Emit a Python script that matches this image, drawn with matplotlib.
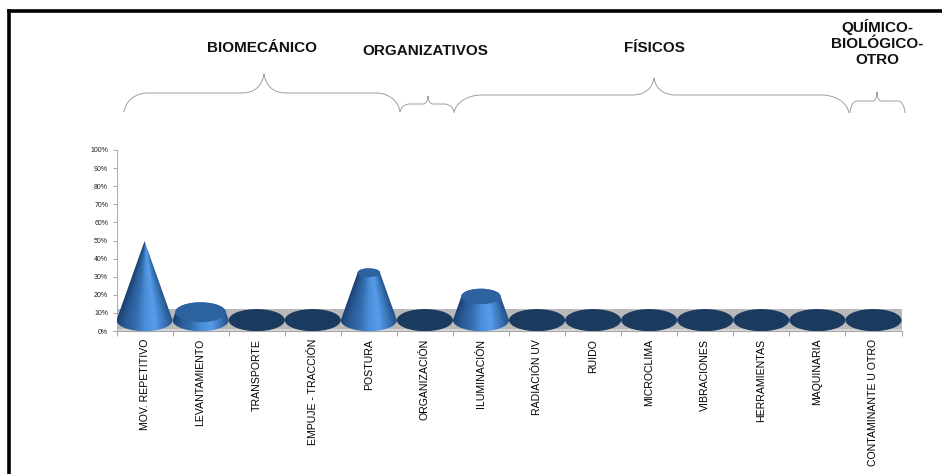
import numpy as np
import matplotlib
matplotlib.use('Agg')
import matplotlib.pyplot as plt
from matplotlib.patches import Ellipse, PathPatch, Polygon
from matplotlib.path import Path

W, H = 942, 474

categories = ['MOV. REPETITIVO', 'LEVANTAMIENTO', 'TRANSPORTE', 'EMPUJE - TRACCIÓN', 'POSTURA',
              'ORGANIZACIÓN', 'ILUMINACIÓN', 'RADIACIÓN UV', 'RUIDO', 'MICROCLIMA',
              'VIBRACIONES', 'HERRAMIENTAS', 'MAQUINARIA', 'CONTAMINANTE U OTRO']
values = [50, 5, 0, 0, 30, 0, 15, 0, 0, 0, 0, 0, 0, 0]
y_ticks = [0, 10, 20, 30, 40, 50, 60, 70, 80, 90, 100]

group_names = ['BIOMECÁNICO', 'ORGANIZATIVOS', 'FÍSICOS', 'QUÍMICO-\nBIOLÓGICO-\nOTRO']
group_label_pos = [(262, 48), (425, 51), (654, 48), (877, 43)]
# left, right, peak x, end y, base y, peak y, end radius, peak radius
group_braces = [(124, 400, 264, 112, 93, 74, 24, 22),
                (400, 454, 428, 112, 104, 96, 10, 5),
                (454, 849, 654, 113, 95, 78, 28, 22),
                (850, 905, 877, 113, 101, 92, 7, 4)]

plt.rcParams['font.family'] = ['Liberation Sans', 'DejaVu Sans']

fig = plt.figure(figsize=(W / 100, H / 100), dpi=100, facecolor='white')
ax = fig.add_axes([116.5 / W, 1 - 331 / H, 785 / W, 181 / H])
ax.set_xlim(0, len(categories))
ax.set_ylim(0, 100)

# floor of the 3D chart
ax.axhspan(0, 12, color='#b9b9b9', lw=0, zorder=1)
ax.axhspan(0, 1, color='#d6d6d6', lw=0, zorder=1)

# axis styling
for s in ['top', 'right']:
    ax.spines[s].set_visible(False)
ax.spines['left'].set_color('#b0b0b0')
ax.spines['bottom'].set_color('#a8a8a8')
ax.spines['left'].set_linewidth(0.8)
ax.spines['bottom'].set_linewidth(0.8)
ax.set_yticks(y_ticks)
ax.set_yticklabels([f'{v}%' for v in y_ticks], fontsize=5, color='#222222')
ax.tick_params(axis='y', length=3, width=0.7, color='#a8a8a8', pad=3)
ax.set_xticks(np.arange(len(categories)) + 0.5)
ax.set_xticklabels(categories, rotation=90, fontsize=7.6, color='black', va='top', ha='center')
ax.set_xticks(np.arange(len(categories) + 1), minor=True)
ax.tick_params(axis='x', which='major', length=0, pad=5.5)
ax.tick_params(axis='x', which='minor', length=3.5, width=0.8, color='#a8a8a8')

# cones: shape constants in axis units
base_y = 6.0
base_h = 12.2
cone_max = 50.0
rise = 0.873

cmap = matplotlib.colors.LinearSegmentedColormap.from_list(
    'cone', ['#1b4272', '#2a5c97', '#346eb0', '#4a8fd8', '#589ceb', '#3a76b8', '#1f4b80'])

for i, v in enumerate(values):
    cx = i + 0.5
    if v == 0:
        ax.add_patch(Ellipse((cx, base_y), 1.0, base_h, fc='#1b3a60', ec='none', zorder=3))
        continue
    frac = 1 - v / cone_max
    top_y = base_y + v * rise
    t = np.linspace(np.pi, 2 * np.pi, 60)
    low = np.column_stack([cx + 0.5 * np.cos(t), base_y + base_h / 2 * np.sin(t)])
    tt = np.linspace(0, np.pi, 60)
    up = np.column_stack([cx + 0.5 * frac * np.cos(tt), top_y + base_h / 2 * frac * np.sin(tt)])
    body = Polygon(np.vstack([low, up]), closed=True, fc='none', ec='none', transform=ax.transData)
    ax.add_patch(body)
    # shading follows the local width of the cone
    xs = np.linspace(cx - 0.5, cx + 0.5, 256)
    ys = np.linspace(0, 100, 400)
    xx, yy = np.meshgrid(xs, ys)
    rr = 0.5 * (1 - np.clip((yy - base_y) / (top_y - base_y), 0, 1) * (1 - frac))
    u = np.clip((xx - cx) / np.maximum(rr, 0.01), -1, 1)
    im = ax.imshow((u + 1) / 2, extent=[cx - 0.5, cx + 0.5, 0, 100], origin='lower',
                   aspect='auto', cmap=cmap, vmin=0, vmax=1, zorder=3)
    im.set_clip_path(body)
    if frac > 0:
        ax.add_patch(Ellipse((cx, top_y), frac, base_h * frac, fc='#2c62a0', ec='none', zorder=4))

ax.set_xlim(0, len(categories))
ax.set_ylim(0, 100)


def px(x, y):
    return x / W, 1 - y / H


def brace(x0, x1, xp, y_end, y_base, y_peak, r, rp):
    drop = (y_end - y_base) * 0.45
    lift = (y_base - y_peak) * 0.35
    verts = [px(x0, y_end), px(x0 + r * 0.05, y_base + drop), px(x0 + r * 0.45, y_base), px(x0 + r, y_base),
             px(xp - rp, y_base),
             px(xp - rp * 0.45, y_base), px(xp - rp * 0.08, y_base - lift), px(xp, y_peak),
             px(xp + rp * 0.08, y_base - lift), px(xp + rp * 0.45, y_base), px(xp + rp, y_base),
             px(x1 - r, y_base),
             px(x1 - r * 0.45, y_base), px(x1 - r * 0.05, y_base + drop), px(x1, y_end)]
    codes = [Path.MOVETO, Path.CURVE4, Path.CURVE4, Path.CURVE4, Path.LINETO,
             Path.CURVE4, Path.CURVE4, Path.CURVE4, Path.CURVE4, Path.CURVE4, Path.CURVE4,
             Path.LINETO, Path.CURVE4, Path.CURVE4, Path.CURVE4]
    fig.add_artist(PathPatch(Path(verts, codes), fc='none', ec='#a0a0a0', lw=0.7,
                             transform=fig.transFigure))


for b in group_braces:
    brace(*b)

for name, pos in zip(group_names, group_label_pos):
    fx, fy = px(*pos)
    fig.text(fx, fy, name, fontsize=11, fontweight='bold', color='#111111',
             ha='center', va='center', linespacing=1.2)

# black frame, left and top edges only
fig.add_artist(plt.Line2D([8.8 / W, 8.8 / W], [0, 1 - 10.8 / H], color='black', lw=2.6,
                          solid_capstyle='projecting', transform=fig.transFigure))
fig.add_artist(plt.Line2D([8.8 / W, 1], [1 - 10.8 / H, 1 - 10.8 / H], color='black', lw=2.6,
                          transform=fig.transFigure))

fig.savefig('out.png', dpi=100)
